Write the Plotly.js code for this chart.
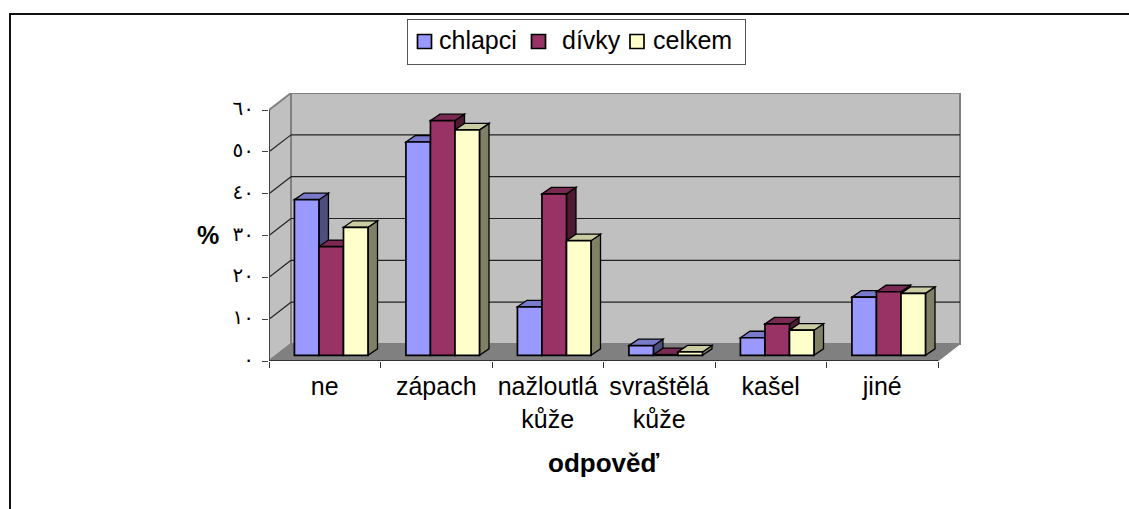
<!DOCTYPE html>
<html><head><meta charset="utf-8">
<script src="https://cdn.plot.ly/plotly-3.0.1.min.js"></script>
<style>html,body{margin:0;padding:0;background:#fff}#c{width:1129px;height:509px}</style>
</head><body><div id="c"></div>
<script>
const categories = ['ne','zápach','nažloutlá<br>kůže','svraštělá<br>kůže','kašel','jiné'];
const chlapci = [37.2,51.0,11.6,2.3,4.2,13.9];
const divky   = [26.0,56.1,38.6,0.15,7.5,15.2];
const celkem  = [30.6,53.9,27.4,0.8,6.0,14.8];
const yTickVals = [0,10,20,30,40,50,60];
const yTickText = ['٠','١٠','٢٠','٣٠','٤٠','٥٠','٦٠'];

// pixel frame of the front plane
const L=269, B=361, PXX=111.5, PXY=4.183, R=962, T=93;
const xMax=(R-L)/PXX, yMax=(B-T)/PXY;
const wallX=22/PXX, wallY=17/PXY;     // depth of the whole box
const shiftX=0.058, baseY=1.36;        // bars stand in from the front plane
const depthX=9.5/PXX, depthY=6.5/PXY;  // depth of a bar
const groupW=0.66, barW=groupW/3;
const px=v=>(v-L)/(R-L), py=v=>(B-v)/(B-T);

const series=[
 {name:'chlapci',y:chlapci,front:'#9999FF',top:'#7A7ACC',side:'#4D4D80'},
 {name:'dívky',y:divky,front:'#993366',top:'#7A2952',side:'#4D1A33'},
 {name:'celkem',y:celkem,front:'#FFFFCC',top:'#CCCCA3',side:'#808066'}
];
const poly=(pts,fill,line,w)=>({type:'path',xref:'x',yref:'y',layer:'between',
  path:'M'+pts.map(p=>p[0]+','+p[1]).join('L')+'Z',fillcolor:fill,
  line:{color:line,width:w}});
const seg=(x0,y0,x1,y1,c,w)=>({type:'line',xref:'x',yref:'y',layer:'between',x0,y0,x1,y1,line:{color:c,width:w}});

const shapes=[];
// walls and floor
shapes.push(poly([[0,0],[wallX,wallY],[wallX,60+wallY],[0,60]],'#C0C0C0','#808080',2));
shapes.push(poly([[wallX,wallY],[6+wallX,wallY],[6+wallX,60+wallY],[wallX,60+wallY]],'#C0C0C0','#808080',2));
shapes.push(poly([[0,0],[6,0],[6+wallX,wallY],[wallX,wallY]],'#808080','#808080',1));
yTickVals.slice(1,-1).forEach(v=>{
  shapes.push(seg(0,v,wallX,v+wallY,'#222',1.2));
  shapes.push(seg(wallX,v+wallY,6+wallX,v+wallY,'#222',1.2));
});
// tops and sides of the bars
const traces=[];
series.forEach((s,k)=>{
  const xs=categories.map((_,i)=>i+0.5+shiftX);
  s.y.forEach((v,i)=>{
    const x0=i+0.5+shiftX-groupW/2+k*barW, x1=x0+barW, yt=baseY+v, yb=baseY;
    shapes.push(poly([[x1,yb],[x1+depthX,yb+depthY],[x1+depthX,yt+depthY],[x1,yt]],s.side,'#000',1.3));
    shapes.push(poly([[x0,yt],[x1,yt],[x1+depthX,yt+depthY],[x0+depthX,yt+depthY]],s.top,'#000',1.3));
  });
  traces.push({type:'bar',name:s.name,x:xs,y:s.y,base:categories.map(()=>baseY),
    marker:{color:s.front,line:{color:'#000',width:1.7}},hoverinfo:'skip'});
});
// axis lines (front edges)
traces.push({type:'scatter',mode:'lines',x:[0,0],y:[0,60],cliponaxis:false,showlegend:false,
  line:{color:'#444',width:2},hoverinfo:'skip'});
traces.push({type:'scatter',mode:'lines',x:[0,6],y:[0,0],cliponaxis:false,showlegend:false,
  line:{color:'#333',width:2},hoverinfo:'skip'});

// outer frame of the chart
shapes.push({type:'line',xref:'paper',yref:'paper',x0:px(10),y0:py(13),x1:px(10),y1:py(509),line:{color:'#111',width:2}});
shapes.push({type:'line',xref:'paper',yref:'paper',x0:px(9),y0:py(14),x1:px(1129),y1:py(14),line:{color:'#111',width:2}});

const layout={
 width:1129,height:509,margin:{l:L,r:1129-R,t:T,b:509-B,pad:0},
 paper_bgcolor:'#fff',plot_bgcolor:'rgba(0,0,0,0)',
 font:{family:'"Liberation Sans",Arial,sans-serif',color:'#000'},
 barmode:'group',bargap:1-groupW,bargroupgap:0,
 xaxis:{range:[0,xMax],showgrid:false,zeroline:false,showline:false,
   tickmode:'array',tickvals:categories.map((_,i)=>i+0.5),ticktext:categories,
   ticks:'',ticklabelstandoff:8,tickfont:{size:25},tickangle:0,
   minor:{ticks:'outside',ticklen:6,tickwidth:1,tickcolor:'#333',tickmode:'array',tickvals:[0,1,2,3,4,5,6],showgrid:false}},
 yaxis:{range:[0,yMax],showgrid:false,zeroline:false,showline:false,
   tickmode:'array',tickvals:yTickVals,ticktext:yTickText,ticks:'outside',ticklen:6,tickcolor:'#444',
   ticklabelstandoff:4,tickfont:{family:'"DejaVu Sans"',size:20}},
 legend:{orientation:'h',x:px(407),y:py(19),xanchor:'left',yanchor:'top',
   bgcolor:'#fff',bordercolor:'#555',borderwidth:1,font:{size:25},traceorder:'normal'},
 shapes,
 annotations:[
  {xref:'paper',yref:'paper',x:px(208),y:py(235),text:'<b>%</b>',showarrow:false,font:{size:25},xanchor:'center',yanchor:'middle'},
  {xref:'paper',yref:'paper',x:px(603),y:py(463),text:'<b>odpověď</b>',showarrow:false,font:{size:26},xanchor:'center',yanchor:'middle'}
 ]
};
// legend entry placement (swatch centre, text start), box size, as in the reference
const legendBox=[407,19,338,45], swatchCX=[424.5,538.5,637], textX=[439,562,653];
Plotly.newPlot('c',traces,layout,{displayModeBar:false,responsive:false}).then(gd=>{
  gd.querySelectorAll('.legend .traces').forEach((g,i)=>{
    const tx=swatchCX[i]-legendBox[0]-20;
    g.setAttribute('transform','translate('+tx+',22.5)');
    const t=g.querySelector('text.legendtext');
    t.setAttribute('x',textX[i]-legendBox[0]-tx);
    t.setAttribute('y',7);
    const p=g.querySelector('.legendpoints path');
    if(p){p.setAttribute('d','M7,7H-7V-7H7Z');p.style.strokeWidth='1.7px';}
  });
  const bg=gd.querySelector('.legend rect.bg');
  bg.setAttribute('width',legendBox[2]);bg.setAttribute('height',legendBox[3]);
  const clip=document.querySelector('clipPath[id*="legend"] rect');
  if(clip){clip.setAttribute('width',legendBox[2]);clip.setAttribute('height',legendBox[3]);}
  gd.querySelectorAll('.ytick text').forEach(t=>{t.style.letterSpacing='8px';t.setAttribute('dy','-2');});
});
</script></body></html>
